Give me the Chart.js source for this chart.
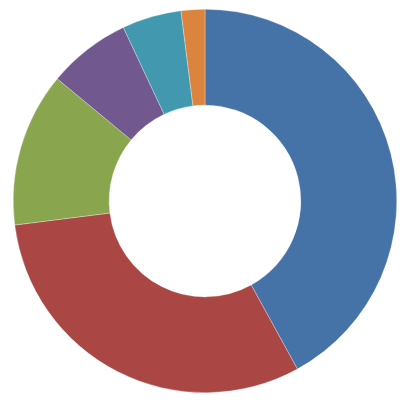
<!DOCTYPE html>
<html>
<head>
<meta charset="utf-8">
<script src="https://cdn.jsdelivr.net/npm/chart.js@4/dist/chart.umd.min.js"></script>
<style>
  html, body { margin: 0; padding: 0; background: #fff; }
  #wrap { width: 414px; height: 405px; }
</style>
</head>
<body>
<div id="wrap"><canvas id="chart"></canvas></div>
<script>
/* DATA */
const categories = ["A", "B", "C", "D", "E", "F"];
const values = [42, 31, 13, 7, 5, 2];
const colors = ["#4572A7", "#AA4643", "#89A54E", "#71588F", "#4198AF", "#DB843D"];

const ctx = document.getElementById("chart");
new Chart(ctx, {
  type: "doughnut",
  data: {
    labels: categories,
    datasets: [
      {
        data: values,
        backgroundColor: colors,
        borderColor: "rgba(255,255,255,0.6)",
        borderWidth: 0.5,
        hoverOffset: 0,
      },
    ],
  },
  options: {
    responsive: true,
    maintainAspectRatio: false,
    animation: false,
    cutout: "50%",
    layout: { padding: { top: 9, bottom: 12, left: 13, right: 17 } },
    plugins: {
      legend: { display: false },
      tooltip: { enabled: false },
    },
  },
});
</script>
</body>
</html>
